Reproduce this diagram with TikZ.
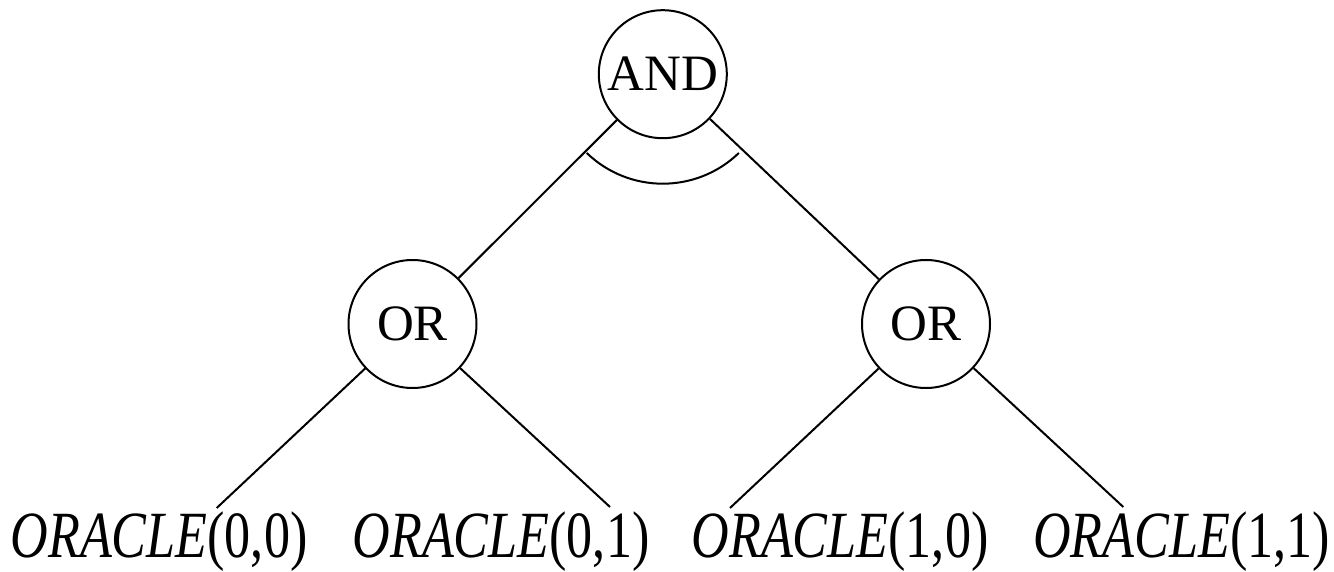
\documentclass[tikz,border=0pt]{standalone}
\usepackage{fontspec}
\setmainfont{Liberation Serif}
\usepackage{graphicx}
\begin{document}
\begin{tikzpicture}[x=1pt,y=1pt,
  gate/.style={draw, circle, line width=2pt, minimum size=128pt, inner sep=0pt,
               font=\fontsize{51}{60}\selectfont},
  leaf/.style={anchor=base, inner sep=0pt, font=\fontsize{66}{76}\selectfont},
  edge/.style={line width=2pt}]
\useasboundingbox (0,0) rectangle (1334,571);
\node[gate] (and) at (662.8,496.8) {AND};
\node[gate] (or1) at (412.5,247) {OR};
\node[gate] (or2) at (926,247) {OR};
\coordinate (e1) at (216.7,63);
\coordinate (e2) at (610,64);
\coordinate (e3) at (730,63);
\coordinate (e4) at (1123.3,64);
\node[leaf] (l1) at (159,14) {\scalebox{0.79}[1]{\textit{ORACLE}(0,0)}};
\node[leaf] (l2) at (501,14) {\scalebox{0.79}[1]{\textit{ORACLE}(0,1)}};
\node[leaf] (l3) at (840,14) {\scalebox{0.79}[1]{\textit{ORACLE}(1,0)}};
\node[leaf] (l4) at (1181.5,14) {\scalebox{0.79}[1]{\textit{ORACLE}(1,1)}};
\draw[edge] (and) -- (or1);
\draw[edge] (and) -- (or2);
\draw[edge] (or1) -- (e1);
\draw[edge] (or1) -- (e2);
\draw[edge] (or2) -- (e3);
\draw[edge] (or2) -- (e4);
\draw[edge] ([shift={(226:109.5)}]and.center) arc[start angle=226, end angle=314, radius=109.5];
\end{tikzpicture}
\end{document}
